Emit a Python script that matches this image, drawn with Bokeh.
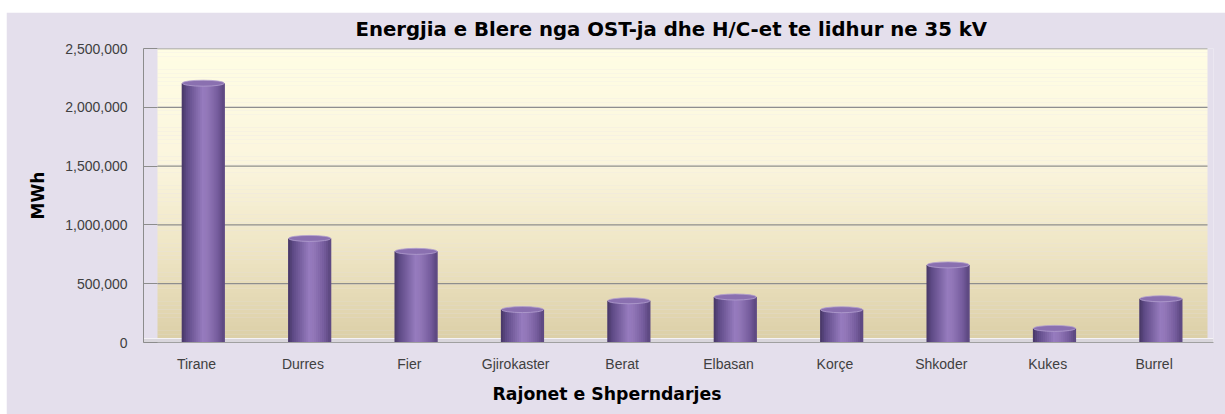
import numpy as np
from bokeh.plotting import figure
from bokeh.models import Range1d, FixedTicker, Title, Spacer
from bokeh.layouts import column, row
from bokeh.embed import file_html
from bokeh.resources import INLINE

# ---- data ----
categories = ["Tirane", "Durres", "Fier", "Gjirokaster", "Berat",
              "Elbasan", "Korçe", "Shkoder", "Kukes", "Burrel"]
energy_mwh = [2205000, 885000, 775000, 280000, 355000,
              387000, 279000, 660000, 120000, 372000]
y_ticks = [0, 500000, 1000000, 1500000, 2000000, 2500000]
y_tick_labels = ["0", "500,000", "1,000,000", "1,500,000", "2,000,000", "2,500,000"]
title_text = "Energjia e Blere nga OST-ja dhe H/C-et te lidhur ne 35 kV"
x_label = "Rajonet e Shperndarjes"
y_label = "MWh"

# ---- styling ----
W, H = 1219, 402
LAV = "#E4DFEC"
FONT = "Liberation Sans"
BOLD_FONT = "DejaVu Sans"
PX_PER_UNIT = 106.4
X_START = -0.498
X_END = X_START + 1070 / PX_PER_UNIT
Y_MAX = y_ticks[-1]
PX_PER_VAL = 295 / Y_MAX

xs = np.arange(len(categories))
bar_shift = 6.8 / PX_PER_UNIT

p = figure(width=W, height=H, output_backend="svg", toolbar_location=None,
           x_range=Range1d(X_START, X_END), y_range=Range1d(0, Y_MAX),
           min_border_left=137, min_border_right=12, min_border_top=35,
           min_border_bottom=72,
           background_fill_color=LAV, border_fill_color=LAV,
           outline_line_color=None)

p.title.text = title_text
p.title.align = "left"
p.title.offset = 212
p.title.text_font = BOLD_FONT
p.title.text_font_style = "bold"
p.title.text_font_size = "19.7px"
p.title.text_color = "#000000"
p.title.vertical_align = "top"
p.title.standoff = 11

# back wall gradient
wall_left = X_START + 14 / PX_PER_UNIT
wall_right = X_START + 1064 / PX_PER_UNIT
floor_top = 4 / PX_PER_VAL
n = 70
edges = np.linspace(floor_top, Y_MAX, n + 1)
wall_stops = [(0.0, (220, 207, 168)), (0.3, (238, 229, 196)),
              (0.6, (251, 245, 221)), (1.0, (255, 253, 228))]


def interp(stops, t):
    for (t0, c0), (t1, c1) in zip(stops[:-1], stops[1:]):
        if t0 <= t <= t1:
            f = (t - t0) / (t1 - t0) if t1 > t0 else 0
            return "#%02x%02x%02x" % tuple(int(round(a + (b - a) * f)) for a, b in zip(c0, c1))
    return "#%02x%02x%02x" % stops[-1][1]


wall_colors = [interp(wall_stops, (i + 0.5) / n) for i in range(n)]
p.quad(left=wall_left, right=wall_right, bottom=edges[:-1], top=edges[1:] + 1,
       fill_color=wall_colors, line_color=None)

# floor
p.quad(left=X_START, right=X_END, bottom=0, top=floor_top,
       fill_color="#D9D6DC", line_color=None)
p.segment(x0=X_START, x1=X_END, y0=floor_top, y1=floor_top, line_color="#F4F2F6", line_width=1)

# grid lines on wall
p.segment(x0=wall_left, x1=wall_right, y0=y_ticks[1:], y1=y_ticks[1:],
          line_color="#8E8E8E", line_width=1.3)

# cylinders
bar_w = 42 / PX_PER_UNIT
cyl_stops = [(0.0, (70, 54, 100)), (0.12, (94, 74, 134)), (0.5, (150, 123, 190)),
             (0.62, (146, 119, 184)), (0.86, (117, 92, 157)), (1.0, (90, 70, 126))]
bx = xs + bar_shift
p.vbar(x=bx, top=energy_mwh, bottom=0, width=bar_w,
       fill_color="#7E64A6", line_color=None)
K = 21
for k in range(K):
    t = (k + 0.5) / K
    off = -bar_w / 2 + (k + 0.5) * bar_w / K
    p.vbar(x=bx + off, top=energy_mwh, bottom=0, width=bar_w / K * 1.6,
           fill_color=interp(cyl_stops, t), line_color=None)
p.ellipse(x=bx, y=energy_mwh, width=bar_w, height=6, height_units="screen",
          fill_color="#8A70B0", line_color="#B3A0CF", line_width=0.8)

# axes
p.xgrid.visible = False
p.ygrid.visible = False

p.yaxis.ticker = FixedTicker(ticks=y_ticks)
p.yaxis.major_label_overrides = dict(zip(y_ticks, y_tick_labels))
p.yaxis.axis_line_color = "#8C8C8C"
p.yaxis.major_tick_line_color = "#8C8C8C"
p.yaxis.major_tick_in = 14
p.yaxis.major_tick_out = 0
p.yaxis.minor_tick_line_color = None
p.yaxis.major_label_standoff = 16
p.yaxis.major_label_text_font = FONT
p.yaxis.major_label_text_font_size = "14px"
p.yaxis.major_label_text_color = "#404040"
p.yaxis.axis_label = y_label
p.yaxis.axis_label_text_font = BOLD_FONT
p.yaxis.axis_label_text_font_style = "bold"
p.yaxis.axis_label_text_font_size = "17px"
p.yaxis.axis_label_text_color = "#000000"
p.yaxis.axis_label_standoff = 14

p.xaxis.ticker = FixedTicker(ticks=list(xs))
p.xaxis.major_label_overrides = {int(i): c for i, c in zip(xs, categories)}
p.xaxis.axis_line_color = "#A0A0A0"
p.xaxis.major_tick_in = 0
p.xaxis.major_tick_out = 0
p.xaxis.minor_tick_line_color = None
p.xaxis.major_label_standoff = 13
p.xaxis.major_label_text_font = FONT
p.xaxis.major_label_text_font_size = "14px"
p.xaxis.major_label_text_color = "#404040"

xt = Title(text=x_label, align="left", offset=349, text_font=BOLD_FONT,
           text_font_style="bold", text_font_size="17.3px", text_color="#000000",
           standoff=14)
p.add_layout(xt, "below")

layout = column(Spacer(width=1225, height=12),
                row(Spacer(width=6, height=H), p))

open("out.html", "w").write(file_html(layout, INLINE))
